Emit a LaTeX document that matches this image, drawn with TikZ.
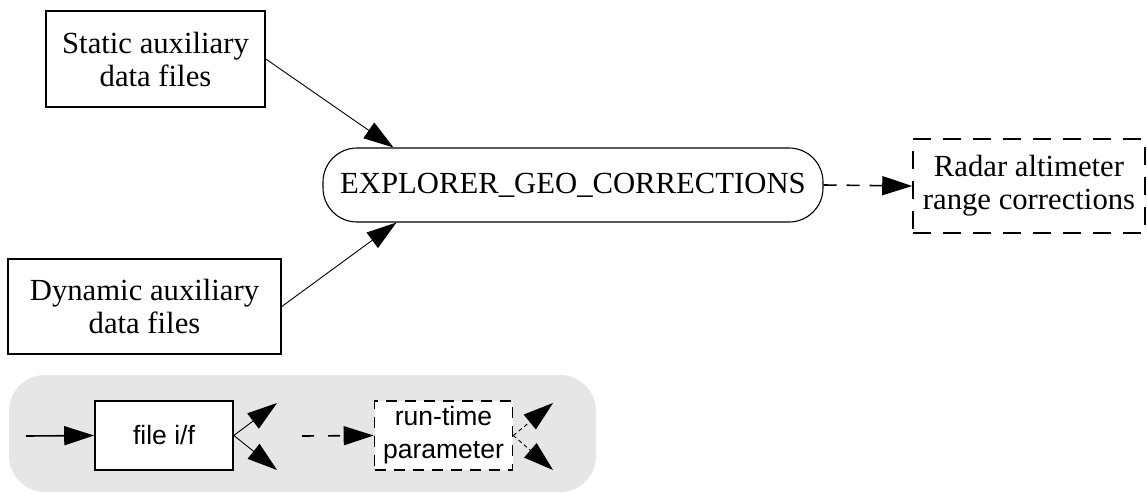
\documentclass[tikz,border=0pt]{standalone}
\usepackage{fontspec}
\setmainfont{Liberation Serif}
\newfontfamily\legendfont{Liberation Sans}
\usetikzlibrary{arrows.meta}
\definecolor{legendgray}{RGB}{230,230,230}
\tikzset{
  databox/.style={draw, line width=1.6pt, inner sep=0pt, align=center,
    font=\fontsize{30.7}{33}\selectfont},
  procbox/.style={draw, line width=1.1pt, rounded corners=34pt, inner sep=0pt,
    font=\fontsize{30.7}{33}\selectfont},
  outbox/.style={draw, line width=1.6pt, dash pattern=on 18pt off 12pt,
    inner sep=0pt, align=center, font=\fontsize{30.7}{33}\selectfont},
  flow/.style={-{Triangle[length=30pt,width=19pt]}, line width=0.9pt},
  legbox/.style={draw, line width=1.6pt, fill=white, inner sep=0pt, align=center,
    minimum width=138pt, minimum height=69pt,
    font=\legendfont\fontsize{26.5}{33}\selectfont}
}
\begin{document}
\begin{tikzpicture}[x=1pt, y=-1pt]
\useasboundingbox (0,0) rectangle (1147,493);
%the inputs
\node [databox, minimum width=219pt, minimum height=96pt] (static) at (155.5,59) {Static auxiliary\\data files};
\node [databox, minimum width=273pt, minimum height=95pt] (dynamic) at (144.5,306.5) {Dynamic auxiliary\\data files};

%the process and its output
\node [procbox, minimum width=500pt, minimum height=74pt] (geo) at (573,185) {EXPLORER\_GEO\_CORRECTIONS};
\node [outbox, minimum width=232pt, minimum height=94pt] (radar) at (1029,186) {Radar altimeter\\range corrections};

\draw [flow] (static.east) -- ([xshift=71pt]geo.north west);
\draw [flow] (dynamic.east) -- ([xshift=74pt]geo.south west);
\draw [flow, line width=1.6pt, dash pattern=on 13pt off 10pt] (geo.east) -- (radar.west);

%the legend
\fill [legendgray, rounded corners=36pt] (9,375) rectangle (596,492);
\node [legbox] (ifbox) at (164,435.5) {file i/f};
\node [legbox, dash pattern=on 11pt off 8pt] (param) at (443.5,435.5) {run-time\\parameter};
\coordinate (ifin) at (26,436);
\coordinate (ifup) at (277,403);
\coordinate (ifdown) at (277,470);
\coordinate (parin) at (302,436);
\coordinate (parup) at (553,403);
\coordinate (pardown) at (553,470);

\draw [flow, line width=1.6pt] (ifin) -- (ifbox.west);
\draw [flow] (ifbox.east) -- (ifup);
\draw [flow] (ifbox.east) -- (ifdown);
\draw [flow, line width=1.6pt, dash pattern=on 12pt off 14pt] (parin) -- (param.west);
\draw [flow, dash pattern=on 4pt off 3pt] (param.east) -- (parup);
\draw [flow, dash pattern=on 4pt off 3pt] (param.east) -- (pardown);
\end{tikzpicture}
\end{document}
